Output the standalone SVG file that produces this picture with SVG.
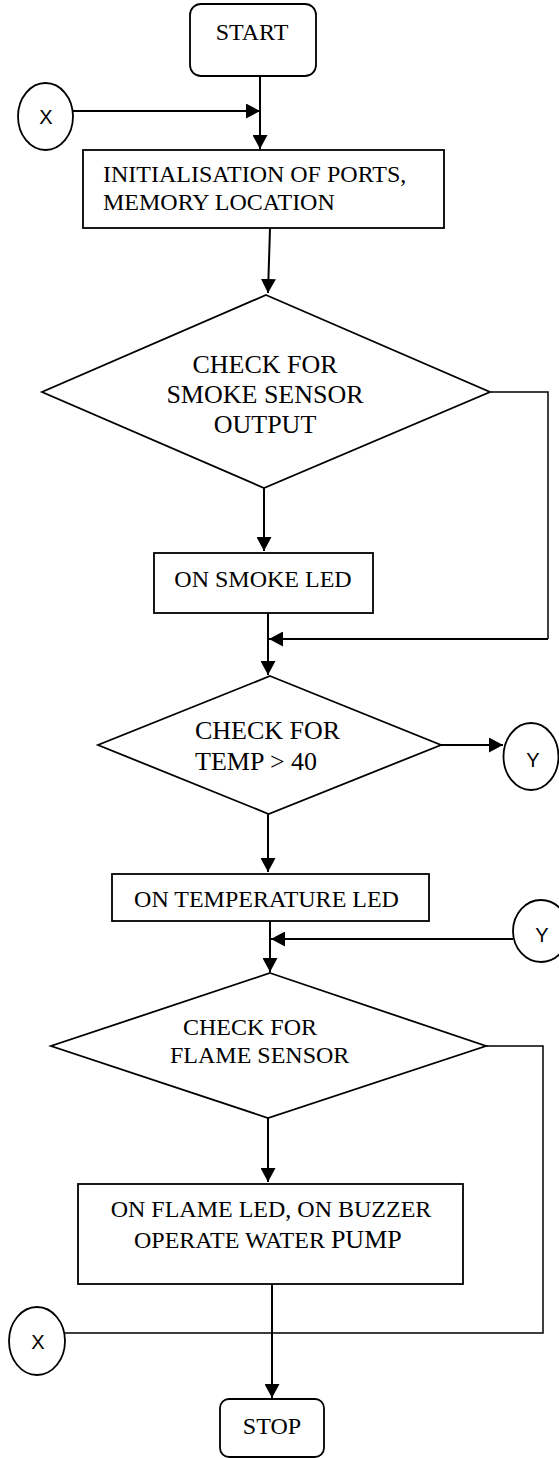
<svg xmlns="http://www.w3.org/2000/svg" width="559" height="1458" viewBox="0 0 559 1458">
<style>
.box{fill:#fff;stroke:#000;stroke-width:1.8}
.con{fill:none;stroke:#000;stroke-width:2}
.thin{fill:none;stroke:#000;stroke-width:1.5}
.t{font-family:"Liberation Serif","Times New Roman",serif;font-size:24px;fill:#000}
.d{font-family:"Liberation Serif","Times New Roman",serif;font-size:26px;fill:#000}
.c{font-family:"Liberation Sans",Arial,sans-serif;font-size:20px;fill:#000;text-anchor:middle}
.m{text-anchor:middle}
</style>
<defs>
<marker id="ah" markerWidth="14" markerHeight="15" refX="14" refY="7.5" orient="auto" markerUnits="userSpaceOnUse">
<path d="M0,0 L14,7.5 L0,15 z" fill="#000"/>
</marker>
</defs>
<rect width="559" height="1458" fill="#fff"/>
<g id="connectors">
<line class="con" x1="260" y1="76" x2="260" y2="149" marker-end="url(#ah)"/>
<line class="con" x1="73" y1="111" x2="260" y2="111" marker-end="url(#ah)"/>
<line class="con" x1="270" y1="228" x2="268" y2="293" marker-end="url(#ah)"/>
<line class="con" x1="264" y1="488" x2="264" y2="551" marker-end="url(#ah)"/>
<polyline class="thin" points="491,392 548,392 548,639"/>
<line class="con" x1="548" y1="639" x2="269" y2="639" marker-end="url(#ah)"/>
<line class="con" x1="268" y1="613" x2="268" y2="675" marker-end="url(#ah)"/>
<line class="con" x1="441" y1="745" x2="503" y2="745" marker-end="url(#ah)"/>
<line class="con" x1="268" y1="814" x2="268" y2="872" marker-end="url(#ah)"/>
<line class="con" x1="270" y1="921" x2="270" y2="972" marker-end="url(#ah)"/>
<line class="con" x1="513" y1="939" x2="271" y2="939" marker-end="url(#ah)"/>
<line class="con" x1="268" y1="1118" x2="268" y2="1182" marker-end="url(#ah)"/>
<polyline class="thin" points="486,1046 543,1046 543,1333 65,1333"/>
<line class="con" x1="272" y1="1284" x2="272" y2="1398" marker-end="url(#ah)"/>
</g>
<g id="start">
<rect class="box" x="190" y="4" width="126" height="72" rx="11"/>
<text class="t m" x="252" y="40">START</text>
</g>
<g id="connX1">
<ellipse class="box" cx="45.5" cy="116.5" rx="27.5" ry="33.5" stroke-width="1.5"/>
<text class="c" x="46" y="124">X</text>
</g>
<g id="init">
<rect class="box" x="83" y="150" width="361" height="78"/>
<text class="t" x="103" y="182">INITIALISATION OF PORTS,</text>
<text class="t" x="103" y="210">MEMORY LOCATION</text>
</g>
<g id="smokeCheck">
<polygon class="box" points="266,295 490,392 264,488 42,392"/>
<text class="d m" x="265" y="373">CHECK FOR</text>
<text class="d m" x="265" y="403">SMOKE SENSOR</text>
<text class="d m" x="265" y="433">OUTPUT</text>
</g>
<g id="smokeLed">
<rect class="box" x="154" y="553" width="219" height="60"/>
<text class="t m" x="263" y="587">ON SMOKE LED</text>
</g>
<g id="tempCheck">
<polygon class="box" points="270,676 441,745 268.6,814 98,745"/>
<text class="d" x="195" y="739">CHECK FOR</text>
<text class="d" x="195" y="770">TEMP &gt; 40</text>
</g>
<g id="connY1">
<ellipse class="box" cx="531" cy="756.5" rx="27.5" ry="33.5" stroke-width="1.5"/>
<text class="c" x="533" y="767">Y</text>
</g>
<g id="tempLed">
<rect class="box" x="112" y="874" width="317" height="47"/>
<text class="t m" x="266.5" y="907">ON TEMPERATURE LED</text>
</g>
<g id="connY2">
<ellipse class="box" cx="541" cy="931" rx="28" ry="31" stroke-width="1.5"/>
<text class="c" x="542" y="942">Y</text>
</g>
<g id="flameCheck">
<polygon class="box" points="270,973 486,1046 268,1118 51,1046"/>
<text class="t" x="183" y="1035">CHECK FOR</text>
<text class="t" x="170" y="1063">FLAME SENSOR</text>
</g>
<g id="flameAct">
<rect class="box" x="78" y="1184" width="385" height="100"/>
<text class="t m" x="271" y="1217">ON FLAME LED, ON BUZZER</text>
<text class="t" x="134" y="1248">OPERATE WATER <tspan font-size="26">PUMP</tspan></text>
</g>
<g id="connX2">
<ellipse class="box" cx="37" cy="1341" rx="28" ry="34" stroke-width="1.5"/>
<text class="c" x="38" y="1349">X</text>
</g>
<g id="stop">
<rect class="box" x="220" y="1399" width="104" height="58" rx="9"/>
<text class="t m" x="272" y="1434">STOP</text>
</g>
</svg>
